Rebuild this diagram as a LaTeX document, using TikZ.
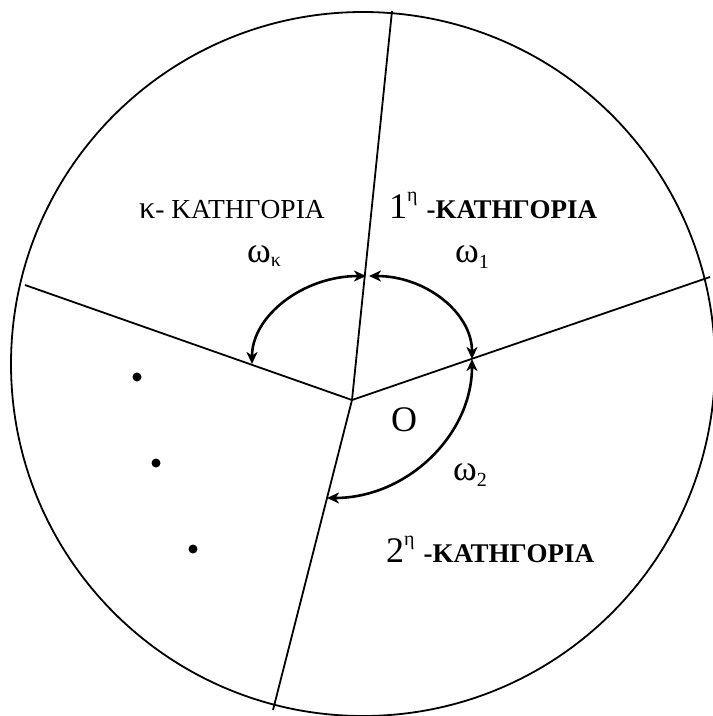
\documentclass[tikz,border=0pt]{standalone}
\usepackage{fontspec}
\setmainfont{Liberation Serif}
\usetikzlibrary{arrows.meta}
\begin{document}
\begin{tikzpicture}[x=1pt,y=-1pt,
  edge/.style={line width=1.8pt},
  angarc/.style={line width=2.6pt,
    {Stealth[length=12pt,width=11pt,inset=3.5pt]}-{Stealth[length=12pt,width=11pt,inset=3.5pt]}},
  dotmark/.style={circle,fill,inner sep=0pt,minimum size=9pt},
  lbl/.style={anchor=base west,inner sep=0pt},
  big/.style={font=\fontsize{36}{40}\selectfont}]
\useasboundingbox (0,0) rectangle (713,716);
% circle and sectors
\coordinate (C) at (363,364);
\draw[edge] (C) circle[radius=352pt];
\coordinate (O) at (352,400);
\coordinate (T) at (392,11);
\coordinate (R) at (710,277);
\coordinate (L) at (25,285);
\coordinate (B) at (273,710);
\draw[edge] (O) -- (T);
\draw[edge] (O) -- (R);
\draw[edge] (O) -- (L);
\draw[edge] (O) -- (B);
% angle arcs
\coordinate (kA) at (366,276);
\coordinate (oA) at (369,276);
\coordinate (kB) at (252,364);
\coordinate (oB) at (472,359);
\coordinate (tB) at (327,498);
\draw[angarc] (kA) .. controls (303,276) and (252,316) .. (kB);
\draw[angarc] (oA) .. controls (426,276) and (472,313) .. (oB);
\draw[angarc] (oB) .. controls (472,435) and (407,498) .. (tB);
% labels
\node[lbl] (labk) at (139,218) {{\fontsize{32}{34}\selectfont κ}{\fontsize{27.5}{29}\selectfont - ΚΑΤΗΓΟΡΙΑ}};
\node[lbl] (lab1) at (389,218) {{\fontsize{36}{40}\selectfont 1}\raisebox{17pt}{\fontsize{20}{22}\selectfont η}\hspace{9pt}{\fontsize{27}{29}\selectfont\bfseries -ΚΑΤΗΓΟΡΙΑ}};
\node[lbl] (lab2) at (386,562) {{\fontsize{36}{40}\selectfont 2}\raisebox{17pt}{\fontsize{20}{22}\selectfont η}\hspace{9pt}{\fontsize{27}{29}\selectfont\bfseries -ΚΑΤΗΓΟΡΙΑ}};
\node[lbl,big] (wk) at (247,262) {ω\raisebox{-4pt}{\fontsize{20}{22}\selectfont κ}};
\node[lbl,big] (w1) at (455,262) {ω\raisebox{-6pt}{\fontsize{20}{22}\selectfont 1}};
\node[lbl,big] (w2) at (453,480) {ω\raisebox{-6pt}{\fontsize{20}{22}\selectfont 2}};
\node[lbl,big] (labO) at (391,431) {O};
% dots
\node[dotmark] (d1) at (137,377) {};
\node[dotmark] (d2) at (156,463) {};
\node[dotmark] (d3) at (193,549) {};
\end{tikzpicture}
\end{document}
